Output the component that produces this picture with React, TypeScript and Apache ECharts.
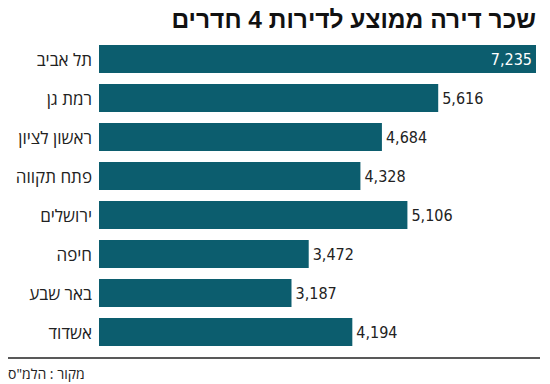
import React, { useEffect, useRef } from "react";
import * as echarts from "echarts";

const title = "שכר דירה ממוצע לדירות 4 חדרים";
const source = "מקור : הלמ\"ס";
const cities = ["תל אביב", "רמת גן", "ראשון לציון", "פתח תקווה", "ירושלים", "חיפה", "באר שבע", "אשדוד"];
const rents = [7235, 5616, 4684, 4328, 5106, 3472, 3187, 4194];

const BAR = "#0c5d6e";
const NUM_FONT = "'Liberation Sans Narrow', 'DejaVu Sans Condensed', Roboto, sans-serif";
const HEB_FONT = "'Open Sans', 'Liberation Sans', 'DejaVu Sans', sans-serif";
const TITLE_FONT = "'Liberation Sans', 'DejaVu Sans', sans-serif";

export default function App() {
  const ref = useRef<HTMLDivElement>(null);
  useEffect(() => {
    if (!ref.current) return;
    const chart = echarts.init(ref.current, null, { renderer: "svg" });
    const maxV = Math.max(...rents);
    chart.setOption({
      animation: false,
      backgroundColor: "#ffffff",
      grid: { left: 99, right: 14, top: 39.5, bottom: 32.5, containLabel: false },
      xAxis: { type: "value", min: 0, max: maxV, show: false },
      yAxis: {
        type: "category",
        data: cities,
        inverse: true,
        axisLine: { show: false },
        axisTick: { show: false },
        axisLabel: { color: "#222", fontSize: 17, fontFamily: HEB_FONT, margin: 7 },
      },
      series: [
        {
          type: "bar",
          barWidth: 28,
          itemStyle: { color: BAR },
          label: {
            show: true,
            position: "right",
            distance: 4,
            color: "#222",
            fontSize: 16,
            fontFamily: NUM_FONT,
            formatter: (p: any) => p.value.toLocaleString("en-US"),
          },
          data: rents.map((v) =>
            v === maxV
              ? { value: v, label: { position: "insideRight", color: "#fff", distance: 4 } }
              : v
          ),
        },
      ],
      graphic: [
        {
          type: "text",
          right: 14,
          top: 7,
          style: {
            text: title,
            fill: "#111",
            font: `bold 24.5px ${TITLE_FONT}`,
            textAlign: "right",
          },
        },
        {
          type: "line",
          shape: { x1: 8, y1: 358, x2: 540, y2: 358 },
          style: { stroke: "#222", lineWidth: 1.5 },
        },
        {
          type: "text",
          left: 8,
          top: 366,
          style: { text: source, fill: "#222", font: `14px ${HEB_FONT}` },
        },
      ],
    });
    return () => chart.dispose();
  }, []);
  return (
    <div
      ref={ref}
      style={{ position: "fixed", left: 0, top: 0, width: 550, height: 384 }}
    />
  );
}
